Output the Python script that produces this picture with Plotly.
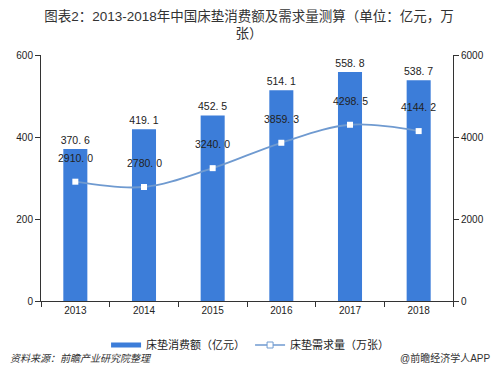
import plotly.graph_objects as go

years = ["2013", "2014", "2015", "2016", "2017", "2018"]
consumption = [370.6, 419.1, 452.5, 514.1, 558.8, 538.7]
demand = [2910.0, 2780.0, 3240.0, 3859.3, 4298.5, 4144.2]
left_ticks = [0, 200, 400, 600]
right_ticks = [0, 2000, 4000, 6000]

FONT = "Liberation Sans, Noto Sans CJK SC, sans-serif"
BAR_C = "#3C7DD9"
LINE_C = "#6F9AD0"

def fmt(v):
    return f"{v:.1f}".replace(".", ". ")

fig = go.Figure()
fig.add_trace(go.Bar(
    x=years, y=consumption, name="床垫消费额（亿元）", showlegend=False,
    marker=dict(color=BAR_C, line=dict(width=0)),
    width=0.35,
    text=[fmt(v) for v in consumption], textposition="outside",
    constraintext="none",
    textfont=dict(size=10.5, color="#222", family=FONT),
    cliponaxis=False,
))
fig.add_trace(go.Scatter(
    x=years, y=demand, name="床垫需求量（万张）", yaxis="y2", showlegend=False,
    mode="lines+markers",
    line=dict(color=LINE_C, width=1.8, shape="spline", smoothing=1.0),
    marker=dict(symbol="square", size=6, color="white", line=dict(width=0)),
    cliponaxis=False,
))
# legend-only entries (no data drawn)
fig.add_trace(go.Scatter(
    x=[None], y=[None], name="床垫消费额（亿元）", mode="lines",
    line=dict(color=BAR_C, width=5), showlegend=True,
))
fig.add_trace(go.Scatter(
    x=[None], y=[None], name="床垫需求量（万张）", mode="lines+markers", yaxis="y2",
    line=dict(color=LINE_C, width=1.5),
    marker=dict(symbol="square", size=6, color="white", line=dict(color=LINE_C, width=1)),
    showlegend=True,
))

annotations = []
for i, v in enumerate(demand):
    annotations.append(dict(x=i, y=v, xref="x", yref="y2", text=fmt(v),
                            showarrow=False, yshift=24,
                            font=dict(size=10.5, color="#222", family=FONT)))
annotations += [
    dict(text="<i>资料来源：前瞻产业研究院整理</i>", xref="paper", yref="paper",
         x=-0.08, xanchor="left", y=-0.232, yanchor="middle", showarrow=False,
         font=dict(size=10, color="#333", family=FONT)),
    dict(text="@前瞻经济学人APP", xref="paper", yref="paper",
         x=1.095, xanchor="right", y=-0.232, yanchor="middle", showarrow=False,
         font=dict(size=10, color="#333", family=FONT)),
]

fig.update_layout(
    width=492, height=363,
    margin=dict(l=33, r=47, t=47, b=70, autoexpand=False),
    paper_bgcolor="white", plot_bgcolor="white",
    font=dict(family=FONT, size=10, color="#333"),
    title=dict(text="图表2：2013-2018年中国床垫消费额及需求量测算（单位：亿元，万<br>张）",
               x=0.49, xanchor="center", xref="container", y=0.965, yanchor="top",
               yref="container",
               font=dict(size=13.5, color="#333", family=FONT)),
    showlegend=True,
    legend=dict(orientation="h", x=0.492, xanchor="center", xref="container",
                y=0.0716, yanchor="middle", yref="container",
                font=dict(size=11, color="#222", family=FONT),
                bgcolor="rgba(0,0,0,0)", traceorder="normal"),
    xaxis=dict(type="category", showline=True, linecolor="#333", linewidth=1,
               ticks="outside", tickson="boundaries", ticklen=5, tickcolor="#333",
               showgrid=False, tickfont=dict(size=10, color="#222")),
    yaxis=dict(range=[0, 600], tickvals=left_ticks, showline=True, linecolor="#333",
               linewidth=1, ticks="outside", ticklen=5, tickcolor="#333",
               showgrid=False, zeroline=False, tickfont=dict(size=10, color="#222")),
    yaxis2=dict(range=[0, 6000], tickvals=right_ticks, overlaying="y", side="right",
                showline=True, linecolor="#333", linewidth=1, ticks="outside",
                ticklen=5, tickcolor="#333", showgrid=False, zeroline=False,
                tickfont=dict(size=10, color="#222")),
    annotations=annotations,
)

fig.write_html("out.html")
